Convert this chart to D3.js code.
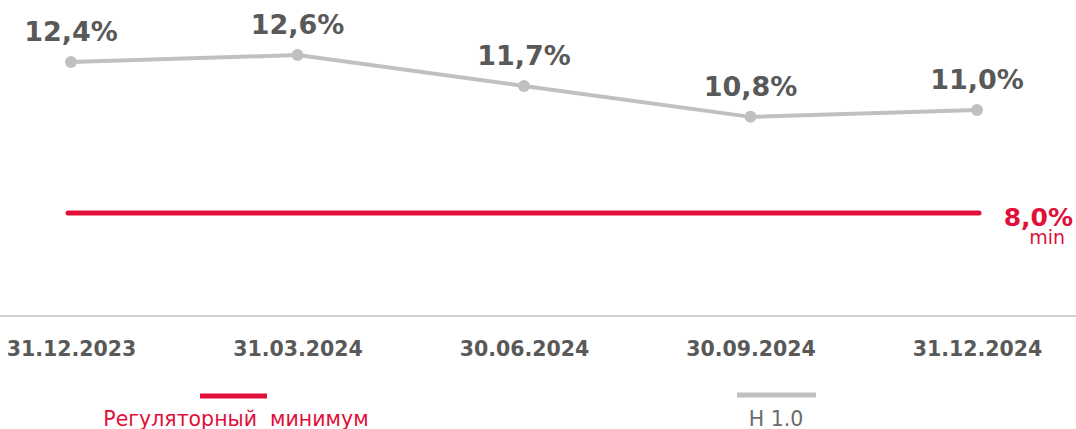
<!DOCTYPE html>
<html><head><meta charset="utf-8">
<script src="https://cdn.jsdelivr.net/npm/d3@7"></script>
<style>body{margin:0;background:#fff}svg{display:block}</style>
</head><body>
<svg id="c" width="1076" height="429"></svg>
<script>
const categories = ["31.12.2023","31.03.2024","30.06.2024","30.09.2024","31.12.2024"];
const n10Values = [12.4, 12.6, 11.7, 10.8, 11.0];
const n10Labels = ["12,4%","12,6%","11,7%","10,8%","11,0%"];
const minValue = 8.0;
const minLabel = "8,0%";
const legendLabels = ["Регуляторный  минимум", "Н 1.0"];

const svg = d3.select("#c");
const grey = "#c0c0c0", red = "#e0103a", text = "#595959";
const font = "'DejaVu Sans', Verdana, sans-serif";

const x = d3.scalePoint().domain(categories).range([71, 977]);
const y = d3.scaleLinear().domain([5, 14]).range([316, 7]);

// axis baseline
const xAxis = d3.axisBottom(x).tickSize(0).tickPadding(22);
const ax = svg.append("g").attr("transform","translate(0,316)").call(xAxis);
ax.select(".domain").remove();
svg.append("line").attr("x1",0).attr("x2",1076).attr("y1",316).attr("y2",316)
  .attr("stroke","#bfbfbf").attr("stroke-width",1.5);
ax.selectAll("text").attr("font-family",font).attr("font-weight","bold")
  .attr("font-size",20.5).attr("fill",text).attr("dy",null).attr("y",40);

// regulatory min line
svg.append("line").attr("x1",x(categories[0])-3).attr("x2",x(categories[4])+2)
  .attr("y1",y(minValue)).attr("y2",y(minValue))
  .attr("stroke",red).attr("stroke-width",5).attr("stroke-linecap","round");
svg.append("text").attr("x",1073).attr("y",y(minValue)+13).attr("text-anchor","end")
  .attr("font-family",font).attr("font-weight","bold").attr("font-size",25)
  .attr("fill",red).text(minLabel);
svg.append("text").attr("x",1065).attr("y",y(minValue)+31).attr("text-anchor","end")
  .attr("font-family",font).attr("font-size",19).attr("fill",red).text("min");

// H1.0 line
const line = d3.line().x((d,i)=>x(categories[i])).y(d=>y(d));
svg.append("path").datum(n10Values).attr("d",line).attr("fill","none")
  .attr("stroke",grey).attr("stroke-width",4);
svg.selectAll("circle.p").data(n10Values).join("circle").attr("class","p")
  .attr("cx",(d,i)=>x(categories[i])).attr("cy",d=>y(d)).attr("r",6).attr("fill",grey);
svg.selectAll("text.v").data(n10Values).join("text").attr("class","v")
  .attr("x",(d,i)=>x(categories[i])).attr("y",d=>y(d)-21).attr("text-anchor","middle")
  .attr("font-family",font).attr("font-weight","bold").attr("font-size",27)
  .attr("fill",text).text((d,i)=>n10Labels[i]);

// legend
svg.append("line").attr("x1",200).attr("x2",267).attr("y1",396).attr("y2",396)
  .attr("stroke",red).attr("stroke-width",5);
svg.append("text").attr("x",236).attr("y",426).attr("text-anchor","middle").style("white-space","pre")
  .attr("font-family",font).attr("font-size",20.5).attr("fill",red).text(legendLabels[0]);
svg.append("line").attr("x1",737).attr("x2",816).attr("y1",395).attr("y2",395)
  .attr("stroke",grey).attr("stroke-width",5);
svg.append("text").attr("x",776).attr("y",426).attr("text-anchor","middle")
  .attr("font-family",font).attr("font-size",20.5).attr("fill","#6b6b6b").text(legendLabels[1]);
</script>
</body></html>
